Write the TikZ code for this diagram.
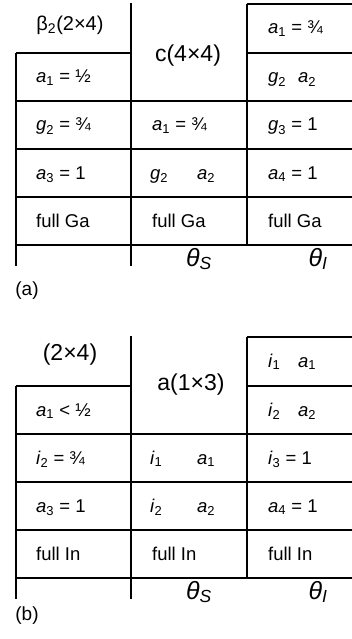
\documentclass[tikz,border=0pt]{standalone}
\usepackage{fontspec}
\setmainfont{Liberation Sans}
\newcommand\vv[2]{\textit{#1}\textsubscript{#2}}
\tikzset{
  thin/.style={line width=1.2pt},
  thick3/.style={line width=2.8pt},
  cell/.style={anchor=base west, inner sep=0pt, font=\fontsize{18.5}{21}\selectfont},
  title/.style={anchor=center, inner sep=0pt, font=\fontsize{23}{26}\selectfont},
  titleb/.style={anchor=center, inner sep=0pt, font=\fontsize{20}{24}\selectfont},
  ang/.style={anchor=center, inner sep=0pt, font=\fontsize{25}{27}\selectfont},
  lab/.style={anchor=center, inner sep=0pt, font=\fontsize{19}{21}\selectfont},
}
\begin{document}
\begin{tikzpicture}[x=1pt,y=-1pt]
\useasboundingbox (0,0) rectangle (352,639);
% ---------- panel (a)
\begin{scope}
\draw[thin] (16,53) -- (16,266);
\draw[thick3] (131,3) -- (131,266);
\draw[thin] (247,4) -- (247,245);
\draw[thin] (247,4) -- (352,4);
\draw[thin] (16,53) -- (131,53);
\draw[thin] (247,53) -- (352,53);
\foreach \yy in {101,149,197,245} \draw[thin] (16,\yy) -- (352,\yy);
\node[titleb] (ta1) at (70,25) {β\textsubscript{2}(2×4)};
\node[title] (ta2) at (188,56) {c(4×4)};
\node[cell] (a11) at (268,34) {\vv{a}{1} = ¾};
\node[cell] (a21) at (36,83) {\vv{a}{1} = ½};
\node[cell] (a22g) at (268,83) {\vv{g}{2}};
\node[cell] (a22a) at (298,83) {\vv{a}{2}};
\node[cell] (a31) at (36,131) {\vv{g}{2} = ¾};
\node[cell] (a32) at (152,131) {\vv{a}{1} = ¾};
\node[cell] (a33) at (268,131) {\vv{g}{3} = 1};
\node[cell] (a41) at (36,179) {\vv{a}{3} = 1};
\node[cell] (a42g) at (150,179) {\vv{g}{2}};
\node[cell] (a42a) at (197,179) {\vv{a}{2}};
\node[cell] (a43) at (268,179) {\vv{a}{4} = 1};
\node[cell] (a51) at (36,227) {full Ga};
\node[cell] (a52) at (152,227) {full Ga};
\node[cell] (a53) at (268,227) {full Ga};
\node[ang] (aS) at (199,259) {\textit{θ}\textsubscript{\textit{S}}};
\node[ang] (aI) at (318,259) {\textit{θ}\textsubscript{\textit{I}}};
\node[lab] (la) at (27,291) {(a)};
\end{scope}
% ---------- panel (b)
\begin{scope}[yshift=-333pt]
\draw[thin] (16,53) -- (16,266);
\draw[thick3] (131,3) -- (131,266);
\draw[thin] (247,4) -- (247,245);
\draw[thin] (247,4) -- (352,4);
\draw[thin] (16,53) -- (131,53);
\draw[thin] (247,53) -- (352,53);
\foreach \yy in {101,149,197,245} \draw[thin] (16,\yy) -- (352,\yy);
\node[title] (tb1) at (70,22) {(2×4)};
\node[title] (tb2) at (191,52) {a(1×3)};
\node[cell] (b11i) at (268,34) {\vv{i}{1}};
\node[cell] (b11a) at (298,34) {\vv{a}{1}};
\node[cell] (b21) at (36,83) {\vv{a}{1} < ½};
\node[cell] (b22i) at (268,83) {\vv{i}{2}};
\node[cell] (b22a) at (298,83) {\vv{a}{2}};
\node[cell] (b31) at (36,131) {\vv{i}{2} = ¾};
\node[cell] (b32i) at (150,131) {\vv{i}{1}};
\node[cell] (b32a) at (197,131) {\vv{a}{1}};
\node[cell] (b33) at (268,131) {\vv{i}{3} = 1};
\node[cell] (b41) at (36,179) {\vv{a}{3} = 1};
\node[cell] (b42i) at (150,179) {\vv{i}{2}};
\node[cell] (b42a) at (197,179) {\vv{a}{2}};
\node[cell] (b43) at (268,179) {\vv{a}{4} = 1};
\node[cell] (b51) at (36,227) {full In};
\node[cell] (b52) at (152,227) {full In};
\node[cell] (b53) at (268,227) {full In};
\node[ang] (bS) at (199,259) {\textit{θ}\textsubscript{\textit{S}}};
\node[ang] (bI) at (318,259) {\textit{θ}\textsubscript{\textit{I}}};
\node[lab] (lb) at (27,283) {(b)};
\end{scope}
\end{tikzpicture}
\end{document}
